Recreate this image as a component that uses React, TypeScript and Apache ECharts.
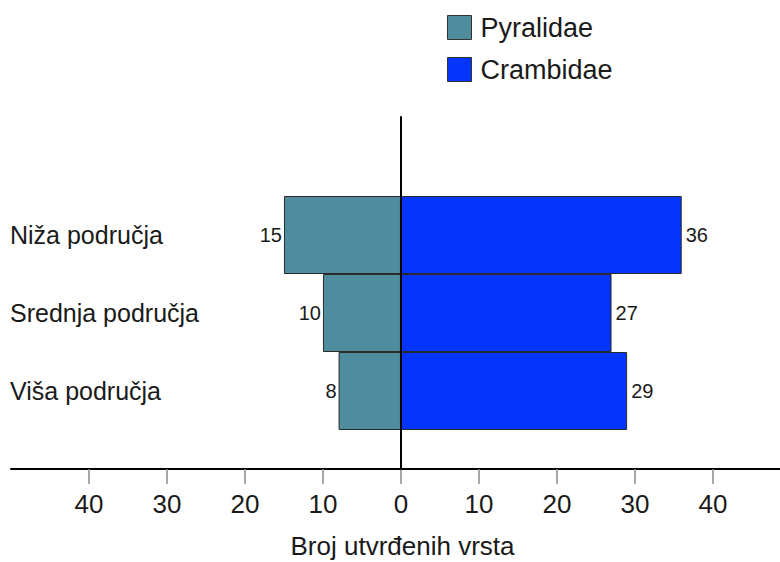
import React, { useEffect, useRef } from "react";
import * as echarts from "echarts";

const categories = ["Niža područja", "Srednja područja", "Viša područja"];
const pyralidae = [15, 10, 8];
const crambidae = [36, 27, 29];
const tickValues = [-40, -30, -20, -10, 0, 10, 20, 30, 40];
const seriesNames = ["Pyralidae", "Crambidae"];
const axisTitle = "Broj utvrđenih vrsta";

const FONT = "'Liberation Sans', Arial, sans-serif";
const X_MIN = -50;
const X_MAX = 48.6;

export default function App() {
  const ref = useRef<HTMLDivElement>(null);
  useEffect(() => {
    if (!ref.current) return;
    const chart = echarts.init(ref.current, null, { renderer: "svg" });
    const labelStyle = { fontFamily: FONT, fontSize: 20, color: "#1a1a1a" };
    chart.setOption({
      animation: false,
      backgroundColor: "#ffffff",
      textStyle: { fontFamily: FONT },
      legend: {
        data: seriesNames,
        orient: "vertical",
        left: 447,
        top: 14,
        padding: 0,
        itemWidth: 24,
        itemHeight: 24,
        itemGap: 15,
        icon: "rect",
        itemStyle: { borderColor: "#333", borderWidth: 1 },
        textStyle: { fontFamily: FONT, fontSize: 27, lineHeight: 24, color: "#1a1a1a", padding: [0, 0, 0, 4] },
      },
      grid: [
        { left: 11, right: 0, top: 196, height: 234, containLabel: false, outerBoundsMode: "none" },
        { left: 11, right: 0, top: 117, height: 352, containLabel: false, outerBoundsMode: "none" },
      ],
      xAxis: [
        {
          gridIndex: 0,
          type: "value",
          min: X_MIN,
          max: X_MAX,
          show: false,
          splitLine: { show: false },
        },
        {
          gridIndex: 1,
          type: "value",
          min: X_MIN,
          max: X_MAX,
          axisLine: { show: true, onZero: false, lineStyle: { color: "#000", width: 2 } },
          axisTick: {
            show: true,
            length: 15,
            customValues: tickValues,
            lineStyle: { color: "#8a8a8a", width: 1.5 },
          },
          axisLabel: {
            show: true,
            customValues: tickValues,
            margin: 22,
            fontFamily: FONT,
            fontSize: 26,
            color: "#1a1a1a",
            formatter: (v: number) => String(Math.abs(v)),
          },
          splitLine: { show: false },
          name: axisTitle,
          nameLocation: "middle",
          nameGap: 65,
          nameTextStyle: {
            fontFamily: FONT,
            fontSize: 26,
            lineHeight: 24,
            color: "#1a1a1a",
            padding: [0, 0, 0, 14],
          },
        },
      ],
      yAxis: [
        {
          gridIndex: 0,
          type: "category",
          inverse: true,
          data: categories,
          axisLine: { show: false },
          axisTick: { show: false },
          axisLabel: {
            align: "left",
            margin: 1,
            fontFamily: FONT,
            fontSize: 25,
            color: "#1a1a1a",
          },
        },
        {
          gridIndex: 1,
          type: "value",
          min: 0,
          max: 1,
          z: 10,
          axisLine: { show: true, onZero: true, lineStyle: { color: "#000", width: 2 } },
          axisTick: { show: false },
          axisLabel: { show: false },
          splitLine: { show: false },
        },
      ],
      series: [
        {
          name: seriesNames[0],
          type: "bar",
          xAxisIndex: 0,
          yAxisIndex: 0,
          stack: "total",
          barWidth: "100%",
          barCategoryGap: "0%",
          data: pyralidae.map((v) => -v),
          itemStyle: { color: "#4f8c9e", borderColor: "#2a2a2a", borderWidth: 1 },
          label: {
            show: true,
            position: "left",
            distance: 2,
            ...labelStyle,
            formatter: (p: any) => String(Math.abs(p.value)),
          },
        },
        {
          name: seriesNames[1],
          type: "bar",
          xAxisIndex: 0,
          yAxisIndex: 0,
          stack: "total",
          barWidth: "100%",
          barCategoryGap: "0%",
          data: crambidae,
          itemStyle: { color: "#0535fa", borderColor: "#2a2a2a", borderWidth: 1 },
          label: {
            show: true,
            position: "right",
            distance: 4,
            ...labelStyle,
            formatter: (p: any) => String(Math.abs(p.value)),
          },
        },
      ],
    });
    return () => chart.dispose();
  }, []);
  return (
    <div
      ref={ref}
      style={{ position: "fixed", left: 0, top: 0, width: 780, height: 562, background: "#fff" }}
    />
  );
}
